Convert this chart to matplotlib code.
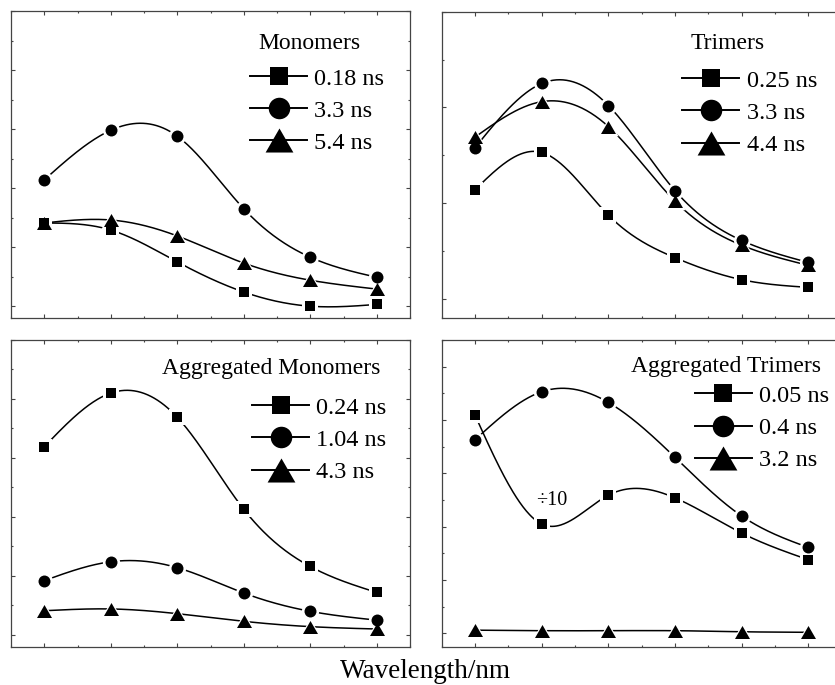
import numpy as np
import matplotlib
matplotlib.use("Agg")
import matplotlib.pyplot as plt
from matplotlib.lines import Line2D
from matplotlib.ticker import MultipleLocator

# ==================== 数据 ====================
x_points = [1, 2, 3, 4, 5, 6]

mono_labels = ["0.18 ns", "3.3 ns", "5.4 ns"]
mono_018 = [1.41, 1.29, 0.75, 0.24, 0.00, 0.03]
mono_33  = [2.14, 2.98, 2.88, 1.65, 0.83, 0.49]
mono_54  = [1.41, 1.46, 1.19, 0.73, 0.44, 0.29]

tri_labels = ["0.25 ns", "3.3 ns", "4.4 ns"]
tri_025 = [1.14, 1.53, 0.875, 0.43, 0.20, 0.12]
tri_33  = [1.58, 2.25, 2.02, 1.13, 0.61, 0.38]
tri_44  = [1.69, 2.06, 1.80, 1.02, 0.56, 0.35]

agg_mono_labels = ["0.24 ns", "1.04 ns", "4.3 ns"]
agg_mono_024 = [3.19, 4.10, 3.69, 2.13, 1.16, 0.72]
agg_mono_104 = [0.92, 1.24, 1.14, 0.71, 0.40, 0.25]
agg_mono_43  = [0.41, 0.44, 0.36, 0.23, 0.14, 0.10]

agg_tri_labels = ["0.05 ns", "0.4 ns", "3.2 ns"]
agg_tri_005 = [4.09, 2.05, 2.59, 2.54, 1.88, 1.38]
agg_tri_04  = [3.63, 4.53, 4.33, 3.30, 2.20, 1.61]
agg_tri_32  = [0.06, 0.05, 0.05, 0.05, 0.03, 0.02]

# ==================== 样式 ====================
W, H = 835, 685
plt.rcParams["font.family"] = ["Liberation Serif", "DejaVu Serif"]

TRI = [(-1, -0.866), (1, -0.866), (0, 0.866)]
MARKERS = ["s", "o", TRI]
PLOT_MS = [7.4, 8.6, 10.8]
LEG_MS  = [13, 15.5, 20]
HALO    = 3.8


def natural_spline(x, y, n=300):
    x = np.asarray(x, float)
    y = np.asarray(y, float)
    k = len(x)
    h = np.diff(x)
    A = np.zeros((k, k))
    r = np.zeros(k)
    A[0, 0] = A[-1, -1] = 1
    for i in range(1, k - 1):
        A[i, i - 1] = h[i - 1]
        A[i, i]     = 2 * (h[i - 1] + h[i])
        A[i, i + 1] = h[i]
        r[i] = 3 * ((y[i + 1] - y[i]) / h[i] - (y[i] - y[i - 1]) / h[i - 1])
    c = np.linalg.solve(A, r)
    b = (y[1:] - y[:-1]) / h - h * (2 * c[:-1] + c[1:]) / 3
    d = (c[1:] - c[:-1]) / (3 * h)
    xs  = np.linspace(x[0], x[-1], n)
    idx = np.clip(np.searchsorted(x, xs) - 1, 0, k - 2)
    dx  = xs - x[idx]
    ys  = y[idx] + b[idx] * dx + c[idx] * dx ** 2 + d[idx] * dx ** 3
    return xs, ys


def px_axes(box):
    L, T, R, B = box
    return [L / W, 1 - B / H, (R - L) / W, (B - T) / H]


def draw_panel(fig, box, series, labels, title, ylim, title_pos, leg_pos):
    ax = fig.add_axes(px_axes(box))
    for ys in series:
        xs, sm = natural_spline(x_points, ys)
        ax.plot(xs, sm, color="black", lw=1.1, zorder=2)
    for ys, m, ms in zip(series, MARKERS, PLOT_MS):
        ax.plot(x_points, ys, ls="none", marker=m, ms=ms + HALO,
                mfc="white", mec="white", mew=0, zorder=3)
    for ys, m, ms in zip(series, MARKERS, PLOT_MS):
        ax.plot(x_points, ys, ls="none", marker=m, ms=ms,
                mfc="black", mec="black", mew=0, zorder=4)

    ax.set_xlim(0.5, 6.5)
    ax.set_ylim(*ylim)
    ax.xaxis.set_major_locator(MultipleLocator(1))
    ax.xaxis.set_minor_locator(MultipleLocator(0.5))
    ax.yaxis.set_major_locator(MultipleLocator(1))
    ax.yaxis.set_minor_locator(MultipleLocator(0.5))
    ax.tick_params(which="both", direction="in", top=True, right=True,
                   labelbottom=False, labelleft=False, color="#444444", width=0.8)
    ax.tick_params(which="major", length=3)
    ax.tick_params(which="minor", length=1.2)
    for sp in ax.spines.values():
        sp.set_color("#444444")
        sp.set_linewidth(0.9)

    ax.text(*title_pos, title, transform=ax.transAxes, ha="center",
            va="center", fontsize=17)

    handles = [Line2D([], [], color="black", lw=1.4, marker=m, ms=ms,
                      mfc="black", mec="black", mew=0)
               for m, ms in zip(MARKERS, LEG_MS)]
    ax.legend(handles, labels, loc="center left", bbox_to_anchor=leg_pos,
              frameon=False, fontsize=17.5, handlelength=2.35,
              handletextpad=0.3, labelspacing=0.42, borderpad=0,
              borderaxespad=0)
    return ax


fig = plt.figure(figsize=(W / 100, H / 100), dpi=100)

draw_panel(fig, (11, 11, 410, 318), [mono_018, mono_33, mono_54],
           mono_labels, "Monomers", (-0.2, 5.0),
           (0.747, 0.893), (0.599, 0.675))
draw_panel(fig, (441.7, 11.7, 841.7, 318), [tri_025, tri_33, tri_44],
           tri_labels, "Trimers", (-0.2, 3.0),
           (0.716, 0.895), (0.601, 0.670))
draw_panel(fig, (11, 340, 410, 646.7), [agg_mono_024, agg_mono_104, agg_mono_43],
           agg_mono_labels, "Aggregated Monomers", (-0.2, 5.0),
           (0.652, 0.907), (0.604, 0.674))
ax4 = draw_panel(fig, (441.7, 340, 841.7, 646.7), [agg_tri_005, agg_tri_04, agg_tri_32],
                 agg_tri_labels, "Aggregated Trimers", (-0.25, 5.5),
                 (0.711, 0.912), (0.633, 0.713))
ax4.text(2.15, 2.5, "\u00f710", ha="center", va="center", fontsize=14.5)

fig.text(425 / W, 1 - 678 / H, "Wavelength/nm", ha="center", va="baseline", fontsize=19.5)

fig.savefig("out.png", dpi=100)
